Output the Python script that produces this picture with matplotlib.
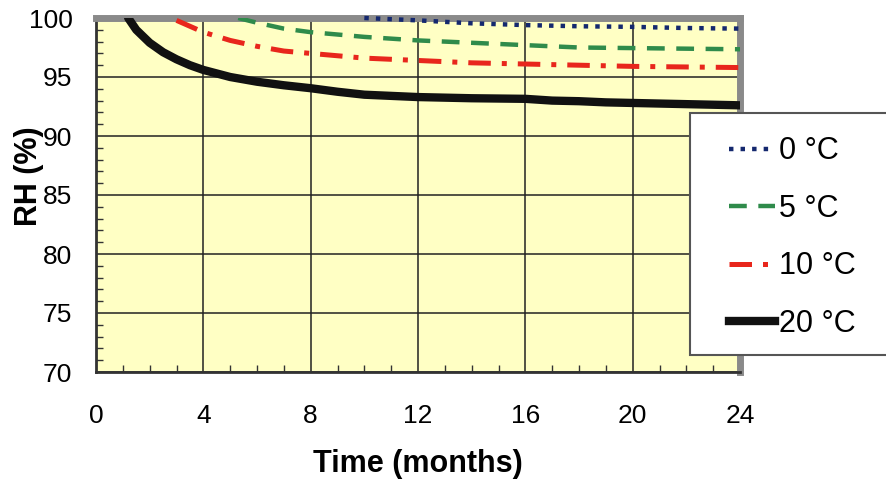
import matplotlib
matplotlib.use("Agg")
import matplotlib.pyplot as plt
from matplotlib.patches import Rectangle
from matplotlib.lines import Line2D

# ---- data ----
t_0c = [10.0, 12.0, 14.0, 16.0, 18.0, 20.0, 22.0, 24.0]
rh_0c = [100.0, 99.8, 99.55, 99.4, 99.3, 99.25, 99.15, 99.1]

t_5c = [5.3, 6.0, 7.0, 8.0, 9.0, 10.0, 12.0, 14.0, 16.0, 18.0, 20.0, 22.0, 24.0]
rh_5c = [100.0, 99.6, 99.1, 98.8, 98.6, 98.4, 98.1, 97.9, 97.7, 97.5, 97.45, 97.4, 97.35]

t_10c = [3.0, 3.5, 4.0, 5.0, 6.0, 7.0, 8.0, 9.0, 10.0, 12.0, 14.0, 16.0, 18.0, 20.0, 22.0, 24.0]
rh_10c = [99.8, 99.3, 98.8, 98.1, 97.6, 97.2, 97.0, 96.8, 96.6, 96.4, 96.2, 96.1, 96.0, 95.9, 95.85, 95.8]

t_20c = [1.2, 1.5, 2.0, 2.5, 3.0, 3.5, 4.0, 5.0, 6.0, 7.0, 8.0, 9.0, 10.0, 11.0, 12.0,
         14.0, 16.0, 17.0, 18.0, 19.0, 20.0, 22.0, 24.0]
rh_20c = [100.0, 99.0, 97.9, 97.1, 96.5, 96.0, 95.6, 95.0, 94.6, 94.3, 94.05, 93.75, 93.5, 93.4, 93.3,
          93.2, 93.15, 93.0, 92.95, 92.85, 92.8, 92.7, 92.6]

labels = ["0 °C", "5 °C", "10 °C", "20 °C"]
x_ticks = [0, 4, 8, 12, 16, 20, 24]
y_ticks = [70, 75, 80, 85, 90, 95, 100]

plt.rcParams["font.family"] = ["Liberation Sans", "DejaVu Sans"]

fig = plt.figure(figsize=(8.86, 4.84), dpi=100)
ax = fig.add_axes([96 / 886, 1 - 372 / 484, (740 - 96) / 886, (372 - 18) / 484])
ax.set_facecolor("#FFFFC4")

ax.set_xlim(0, 24)
ax.set_ylim(70, 100)

c0, c5, c10, c20 = "#14286E", "#2F8B4B", "#E8261C", "#111111"
ls0 = (0, (1.0, 1.6))
ls5 = (0, (4.0, 2.6))
ls10 = (0, (4.5, 2.2, 1.0, 2.2))

ax.plot(t_0c, rh_0c, color=c0, lw=3.2, linestyle=ls0, zorder=4, clip_on=False)
ax.plot(t_5c, rh_5c, color=c5, lw=3.2, linestyle=ls5, zorder=4)
ax.plot(t_10c, rh_10c, color=c10, lw=3.6, linestyle=ls10, zorder=4)
ax.plot(t_20c, rh_20c, color=c20, lw=6, solid_capstyle="round", zorder=5)

ax.set_xticks(x_ticks)
ax.set_yticks(y_ticks)
ax.set_xticks(range(0, 25), minor=True)
ax.set_yticks(range(70, 101), minor=True)
ax.grid(True, which="major", color="#222222", lw=1.1, zorder=1)
ax.set_axisbelow(True)
ax.tick_params(which="major", length=0, labelsize=19)
ax.tick_params(axis="x", which="major", pad=23)
ax.tick_params(axis="y", which="major", pad=17)
ax.tick_params(which="minor", direction="in", length=5, width=1, color="#333333")

for s in ["left", "bottom"]:
    ax.spines[s].set_color("#333333")
    ax.spines[s].set_linewidth(2)
for s in ["top", "right"]:
    ax.spines[s].set_color("#8A8A8A")
    ax.spines[s].set_linewidth(5)

ax.set_xlabel("Time (months)", fontsize=22, fontweight="bold", labelpad=15)
fig.text(29 / 886, 1 - 176 / 484, "RH (%)", rotation=90, fontsize=22, fontweight="bold",
         ha="center", va="center")

# legend box extending past the right edge
box = Rectangle((690 / 886, 1 - 355 / 484), 0.25, (355 - 113) / 484, transform=fig.transFigure,
                facecolor="white", edgecolor="#555555", lw=1.5, zorder=4, clip_on=False)
fig.patches.append(box)

handles = [Line2D([], [], color=c0, lw=3.2, linestyle=ls0),
           Line2D([], [], color=c5, lw=3.2, linestyle=ls5),
           Line2D([], [], color=c10, lw=3.6, linestyle=ls10),
           Line2D([], [], color=c20, lw=6)]
leg = fig.legend(handles, labels, loc="upper left", bbox_to_anchor=(714 / 886, 1 - 121 / 484),
                 frameon=False, fontsize=22, handlelength=1.5, handletextpad=0.12,
                 labelspacing=0.9, borderpad=0)
leg.set_zorder(6)

fig.savefig("out.png", dpi=100)
